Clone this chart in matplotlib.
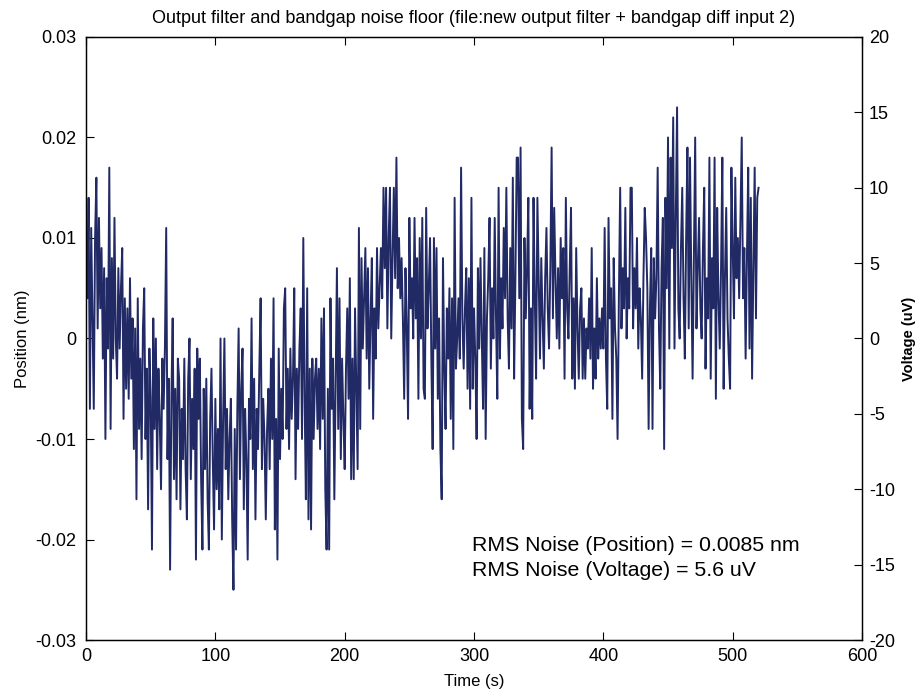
import numpy as np
import matplotlib
matplotlib.use('Agg')
import matplotlib.pyplot as plt
from matplotlib.ticker import MultipleLocator, FuncFormatter

plt.rcParams['font.family'] = ['Liberation Sans', 'DejaVu Sans']

# sampled position, one value per second, in picometres (0.001 nm)
time_s = np.arange(0, 521)
position_pm = np.array([
    9, 4, 14, -7, 11, 2, -7, 10, 16, 1, 12, 3, 9, -2, 7, -10, 6, -1, 17, -9,
    8, -2, 12, 0, -4, 7, -1, 5, 9, -8, 4, -5, 3, -6, 6, -4, 2, -11, 1, -16,
    4, -9, -2, -12, 1, 5, -10, -3, -17, -1, -6, -21, 2, -9, 0, -13, -3, -8, -15, -2,
    -7, -1, 11, -12, -4, -23, -6, 2, -14, -5, -16, -2, -4, -17, -7, -12, -2, -13, -18, -4,
    0, -14, -6, -11, -3, -22, -1, -8, -2, -14, -21, -5, -13, -4, -16, -21, -8, -3, -12, -19,
    -6, -15, -9, -17, 0, -20, -8, 0, -13, -7, -16, -10, -6, -18, -25, -9, -21, -7, 1, -14,
    -5, -1, -17, -7, -12, -22, -6, -10, 2, -13, -4, -18, -7, -11, -3, 4, -13, -6, -10, -18,
    -9, -5, -13, -2, -10, 4, -19, -8, -22, -1, -12, -5, -10, 3, 5, -9, -3, -11, -1, -8,
    -4, 5, -14, -3, -9, -1, 3, -10, 10, -6, -16, 5, -18, -3, -19, -2, -10, -4, -2, -9,
    -3, -11, 2, -8, 3, -15, -21, -5, -21, 4, -7, -2, -16, -4, 7, -9, 4, -12, -2, -8,
    -13, -3, 3, -6, 6, -14, -2, -14, 3, -5, -13, 11, -9, 8, -1, 4, 9, -2, 7, -5,
    2, 8, -8, 3, -2, 9, 1, 5, 9, 4, 15, 7, 15, 1, 10, 15, 0, 8, 15, 6,
    18, 5, 10, 4, 8, 2, -6, 7, 1, -8, 12, 3, 6, 0, 12, 2, 8, -6, 10, 0,
    12, -5, -6, 13, 1, 5, 10, -2, -11, 10, -1, 9, -6, 2, -11, -16, 8, -3, -9, 3,
    -2, 5, -8, 4, -11, 14, -3, 0, 4, -2, 17, 2, -3, 3, 7, -5, 6, -7, 14, -5,
    3, -2, -10, 7, -1, 8, 0, -7, 9, -10, 2, 6, 12, -3, 5, 0, 12, 2, -6, 15,
    -2, 6, 1, 11, 4, 15, 2, -3, 9, 1, 16, -4, 6, 18, 18, 4, 19, -8, -11, 10,
    2, 7, 14, -7, 3, -8, 14, 4, -4, 14, 6, -2, 8, 2, -3, 6, 11, 3, -1, 7,
    19, 2, 13, 6, 0, 7, -1, 10, 4, 9, -4, 14, 3, 0, 7, 13, -4, 4, -5, 9,
    1, -4, 3, 5, -4, 2, -4, 1, -1, 4, -2, 9, -5, 1, -4, 6, -2, 2, -1, 3,
    -1, 11, -2, -7, 12, 2, 5, -8, 8, 1, -2, -10, 4, 15, 1, 7, 3, 13, 0, 6,
    3, 15, 15, 1, 7, 3, 10, -1, 5, 2, -4, 6, 13, 10, 5, -9, 3, 9, -9, 8,
    2, 6, 17, 1, -5, 7, 12, -11, 14, 5, 20, -1, 18, 9, 22, -1, 12, 23, 3, 0,
    9, 15, 4, -2, 10, 19, 1, 18, 6, -4, 8, 20, 1, 7, 12, 3, 0, 9, 15, -3,
    6, 2, 18, -4, 8, 3, 18, -6, 13, 4, -1, 7, 18, -5, 6, 13, 2, -2, -5, 17,
    9, 2, 16, 6, 10, 4, 12, 20, 4, 9, -2, 8, 17, -1, 14, -4, 7, 17, 2, 14,
    15,
])
position_nm = position_pm / 1000.0

title_text = 'Output filter and bandgap noise floor (file:new output filter + bandgap diff input 2)'
rms_position = 'RMS Noise (Position) = 0.0085 nm'
rms_voltage = 'RMS Noise (Voltage) = 5.6 uV'

fig = plt.figure(figsize=(9.19, 6.94), dpi=100)
ax = fig.add_axes([0.0936, 0.0778, 0.8444, 0.8689])

ax.plot(time_s, position_nm, color='#222a66', linewidth=1.4)

ax.set_xlim(0, 600)
ax.set_ylim(-0.03, 0.03)
ax.xaxis.set_major_locator(MultipleLocator(100))
ax.set_yticks(np.arange(-0.03, 0.031, 0.01))
ax.set_yticklabels(['-0.03', '-0.02', '-0.01', '0', '0.01', '0.02', '0.03'])
ax.tick_params(direction='in', length=6, width=0.8, top=True, right=True,
               labelsize=13, pad=7)
ax.tick_params(axis='x', pad=6)
ax.set_xlabel('Time (s)', fontsize=12, labelpad=6)
ax.set_ylabel('Position (nm)', fontsize=12, labelpad=4)
ax.set_title(title_text, fontsize=13, pad=10)

ax.text(298.5, -0.0206, rms_position, fontsize=15.3, va='center')
ax.text(298.5, -0.0231, rms_voltage, fontsize=15.3, va='center')

# voltage scale on the right
ax2 = ax.twinx()
ax2.set_ylim(-20, 20)
ax2.yaxis.set_major_locator(MultipleLocator(5))
ax2.yaxis.set_major_formatter(FuncFormatter(lambda v, p: '%d' % v))
ax2.tick_params(direction='in', length=6, width=0.8, labelsize=13, pad=5)
ax2.set_ylabel('Voltage (uV)', fontsize=10.5, fontweight='bold')
ax2.yaxis.set_label_coords(1.052, 0.5)

for a in (ax, ax2):
    for s in a.spines.values():
        s.set_linewidth(0.9)

fig.savefig('out.png', dpi=100)
